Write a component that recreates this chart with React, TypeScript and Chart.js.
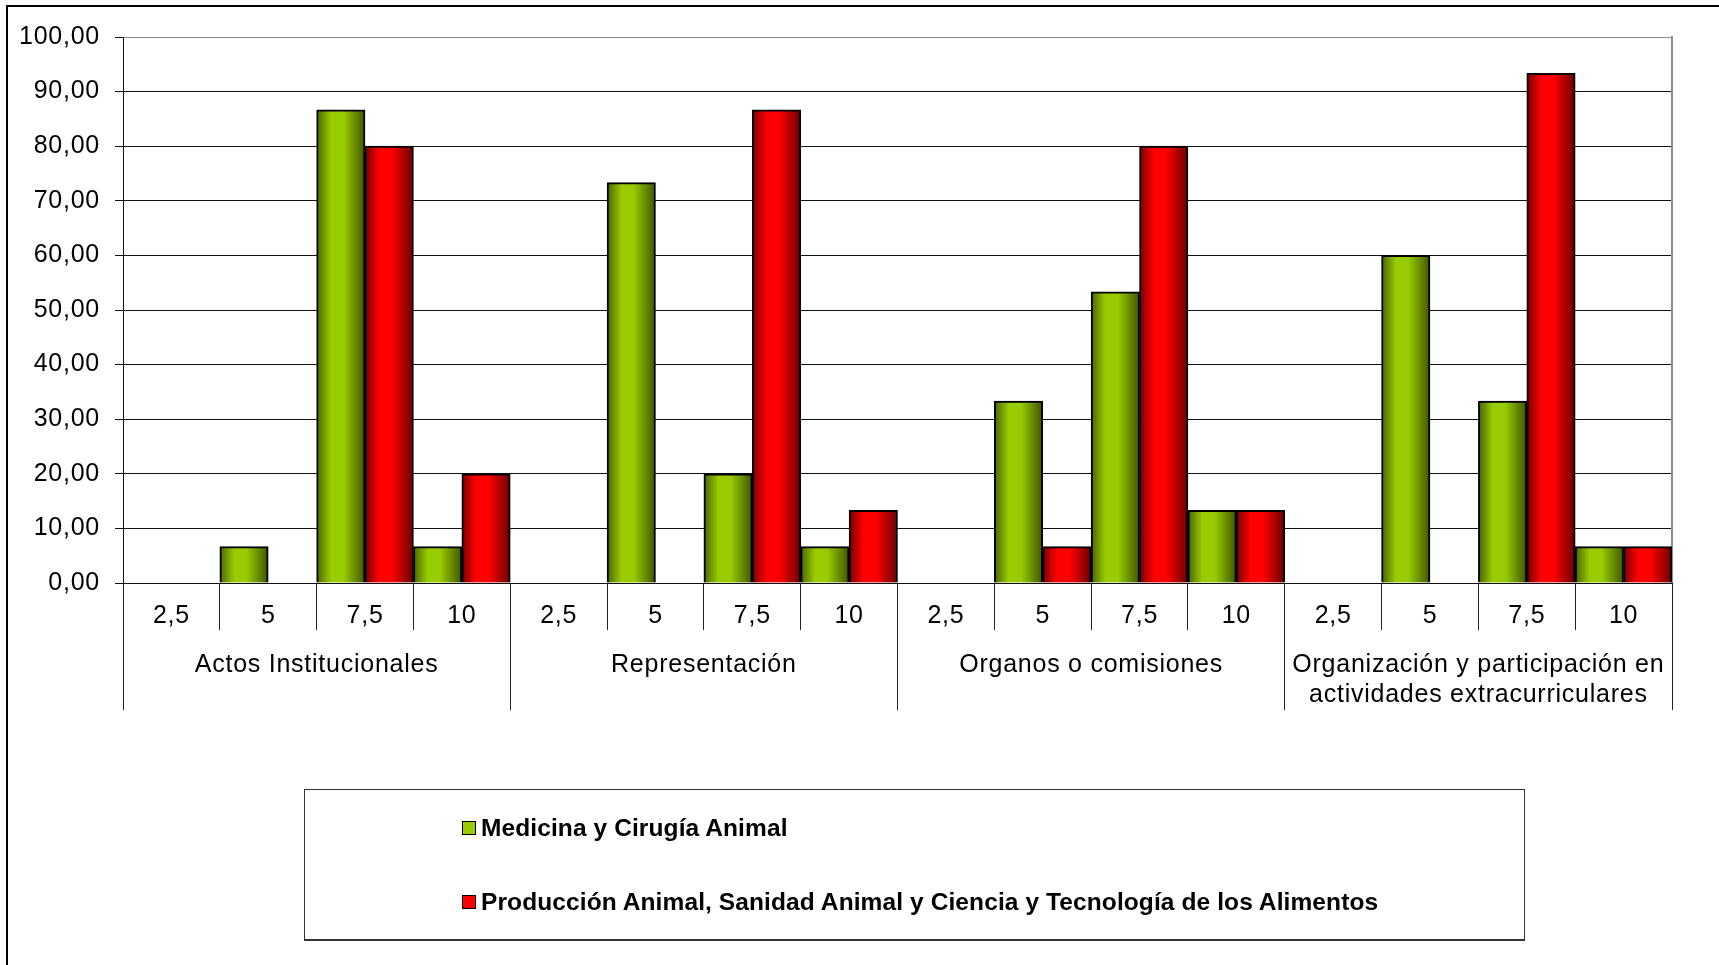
import React, { useEffect, useRef } from 'react';
import { Chart, registerables } from 'chart.js';

Chart.register(...registerables);

const categories = ['2,5', '5', '7,5', '10', '2,5', '5', '7,5', '10', '2,5', '5', '7,5', '10', '2,5', '5', '7,5', '10'];
const groups: (string | string[])[] = [
  'Actos Institucionales',
  'Representación',
  'Organos o comisiones',
  ['Organización y participación en', 'actividades extracurriculares'],
];
const seriesNames = [
  'Medicina y Cirugía Animal',
  'Producción Animal, Sanidad Animal y Ciencia y Tecnología de los Alimentos',
];
const medicina = [0, 6.67, 86.67, 6.67, 0, 73.33, 20, 6.67, 0, 33.33, 53.33, 13.33, 0, 60, 33.33, 6.67];
const produccion = [0, 0, 80, 20, 0, 0, 86.67, 13.33, 0, 6.67, 80, 13.33, 0, 0, 93.33, 6.67];
const yMin = 0;
const yMax = 100;
const yStep = 10;

const greenStops = ['#4a6400', '#99cc00', '#99cc00', '#3f5500'];
const redStops = ['#780000', '#ff0000', '#ff0000', '#6a0000'];
const FONT = "'Liberation Sans', Arial, sans-serif";

function barFill(stops: string[], fallback: string) {
  return (ctx: any) => {
    if (ctx.type !== 'data') return fallback;
    const chart = ctx.chart;
    const xs = chart.scales && chart.scales.x;
    if (!xs) return fallback;
    const c = xs.getPixelForValue(ctx.dataIndex);
    const w = xs.width / categories.length;
    const left = c - w / 2 + ctx.datasetIndex * (w / 2);
    const right = left + w / 2;
    if (!isFinite(left) || !isFinite(right) || right <= left) return fallback;
    const g = chart.ctx.createLinearGradient(left, 0, right, 0);
    g.addColorStop(0, stops[0]);
    g.addColorStop(0.3, stops[1]);
    g.addColorStop(0.55, stops[2]);
    g.addColorStop(1, stops[3]);
    return g;
  };
}

const spacingPlugin = {
  id: 'letterSpacing',
  beforeUpdate(chart: any) {
    chart.ctx.letterSpacing = '0.75px';
  },
  beforeDraw(chart: any) {
    chart.ctx.letterSpacing = '0.75px';
  },
};

export default function App() {
  const canvasRef = useRef<HTMLCanvasElement | null>(null);

  useEffect(() => {
    if (!canvasRef.current) return;
    const chart = new Chart(canvasRef.current, {
      type: 'bar',
      plugins: [spacingPlugin],
      data: {
        labels: categories,
        datasets: [
          {
            label: seriesNames[0],
            data: medicina,
            backgroundColor: barFill(greenStops, '#99cc00'),
            borderColor: '#000',
            borderWidth: 2,
            categoryPercentage: 1,
            barPercentage: 1,
            xAxisID: 'x',
            yAxisID: 'y',
          },
          {
            label: seriesNames[1],
            data: produccion,
            backgroundColor: barFill(redStops, '#ff0000'),
            borderColor: '#000',
            borderWidth: 2,
            categoryPercentage: 1,
            barPercentage: 1,
            xAxisID: 'x',
            yAxisID: 'y',
          },
        ],
      },
      options: {
        responsive: false,
        animation: false,
        devicePixelRatio: 1,
        layout: { padding: { left: 0, top: 37, right: 47, bottom: 238 } },
        plugins: {
          legend: { display: false },
          tooltip: { enabled: false },
        },
        scales: {
          y: {
            type: 'linear',
            position: 'left',
            min: yMin,
            max: yMax,
            ticks: {
              stepSize: yStep,
              color: '#000',
              padding: 15,
              font: { family: FONT, size: 25 },
              callback: (v: any) => Number(v).toFixed(2).replace('.', ','),
            },
            grid: {
              color: (ctx: any) => (ctx.tick && ctx.tick.value === yMax ? '#8c8c8c' : '#111'),
              tickColor: '#111',
              lineWidth: 1,
              tickLength: 8,
            },
            border: { display: true, color: '#111', width: 1 },
            afterFit: (s: any) => {
              s.width = 123;
            },
          },
          y2: {
            type: 'linear',
            position: 'right',
            display: true,
            ticks: { display: false },
            grid: { drawOnChartArea: false, drawTicks: false },
            border: { display: true, color: '#8c8c8c', width: 2 },
            afterFit: (s: any) => {
              s.width = 0;
            },
          },
          x: {
            type: 'category',
            position: 'bottom',
            offset: true,
            ticks: {
              autoSkip: false,
              maxRotation: 0,
              minRotation: 0,
              color: '#000',
              padding: -29,
              font: { family: FONT, size: 25 },
            },
            grid: {
              offset: true,
              drawOnChartArea: false,
              color: '#222',
              lineWidth: 1,
              tickLength: 47,
            },
            border: { display: true, color: '#111', width: 1 },
            afterFit: (s: any) => {
              s.height = 44;
            },
          },
          x2: {
            type: 'category',
            position: 'bottom',
            labels: groups as any,
            offset: true,
            ticks: {
              autoSkip: false,
              maxRotation: 0,
              minRotation: 0,
              color: '#000',
              padding: -60,
              font: { family: FONT, size: 25 },
            },
            grid: {
              offset: true,
              drawOnChartArea: false,
              color: '#222',
              lineWidth: 1,
              tickLength: 83,
            },
            border: { display: false },
            afterFit: (s: any) => {
              s.height = 100;
            },
          },
        },
      } as any,
    });
    return () => chart.destroy();
  }, []);

  const legendItem = (color: string, text: string, top: number) => (
    <div
      style={{
        position: 'absolute',
        left: 462,
        top: top - 15,
        height: 30,
        display: 'flex',
        alignItems: 'center',
        whiteSpace: 'nowrap',
      }}
    >
      <span
        style={{
          display: 'inline-block',
          width: 12,
          height: 12,
          background: color,
          border: '1.5px solid #000',
          marginRight: 5,
        }}
      />
      <span
        style={{
          fontFamily: FONT,
          fontWeight: 'bold',
          fontSize: 24.5,
          letterSpacing: '0.1px',
          color: '#000',
        }}
      >
        {text}
      </span>
    </div>
  );

  return (
    <div
      style={{
        position: 'absolute',
        left: 0,
        top: 0,
        width: 1719,
        height: 965,
        overflow: 'hidden',
        background: '#fff',
      }}
    >
      <div
        style={{
          position: 'absolute',
          left: 6,
          top: 5,
          width: 1800,
          height: 1100,
          borderLeft: '2px solid #000',
          borderTop: '2px solid #000',
        }}
      />
      <canvas ref={canvasRef} width={1719} height={965} style={{ position: 'absolute', left: 0, top: 0 }} />
      <div
        style={{
          position: 'absolute',
          left: 304,
          top: 789,
          width: 1219,
          height: 149,
          border: '1px solid #333',
          borderBottom: '2px solid #333',
        }}
      />
      {legendItem('#99cc00', seriesNames[0], 828)}
      {legendItem('#ff0000', seriesNames[1], 902)}
    </div>
  );
}
